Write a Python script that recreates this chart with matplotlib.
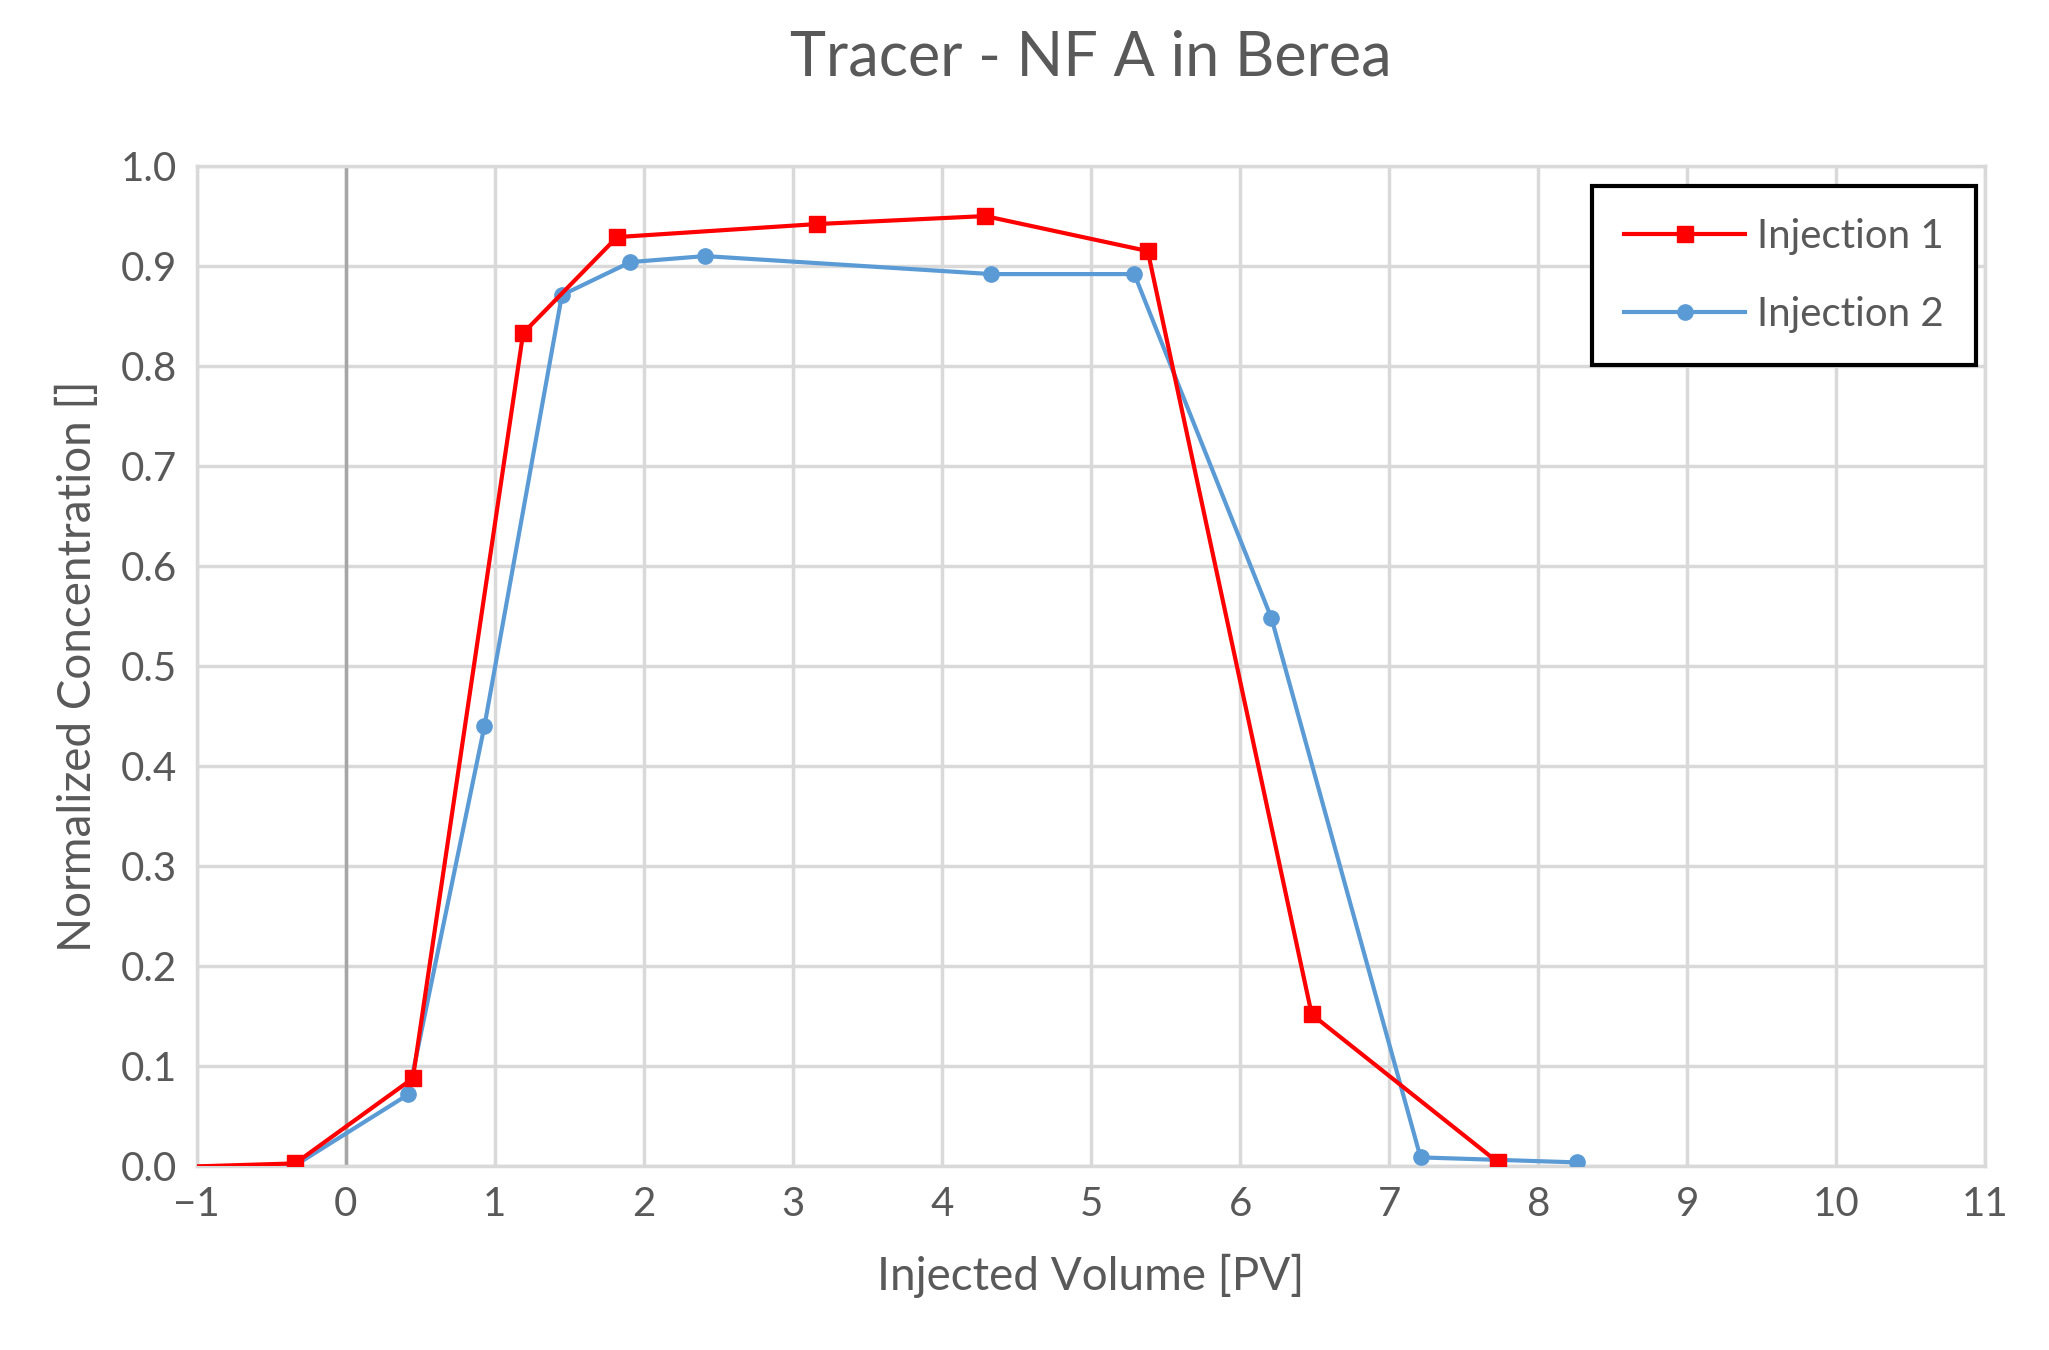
import matplotlib.pyplot as plt
import matplotlib

plt.rcParams['font.family'] = ['Lato', 'DejaVu Sans']

x1 = [-1, -0.34, 0.45, 1.19, 1.82, 3.16, 4.29, 5.38, 6.48, 7.73]
y1 = [0.0, 0.003, 0.088, 0.833, 0.929, 0.942, 0.950, 0.915, 0.152, 0.004]
x2 = [-1, -0.34, 0.42, 0.93, 1.45, 1.91, 2.41, 4.33, 5.29, 6.21, 7.21, 8.26]
y2 = [0.0, 0.001, 0.072, 0.44, 0.871, 0.904, 0.910, 0.892, 0.892, 0.548, 0.009, 0.004]

gray = '#595959'
fig = plt.figure(figsize=(20.49, 13.5), dpi=100)
ax = fig.add_axes([0.096, 0.136, 0.873, 0.741])

ax.plot(x1, y1, color='#ff0000', lw=3, marker='s', ms=12, markevery=list(range(1, len(x1))),
        label='Injection 1', zorder=4)
ax.plot(x2, y2, color='#5b9bd5', lw=3, marker='o', ms=11, markevery=list(range(1, len(x2))),
        label='Injection 2', zorder=3)

ax.set_xlim(-1, 11)
ax.set_ylim(0, 1.0)
ax.set_xticks(range(-1, 12))
ax.set_xticklabels(['\u22121'] + [str(i) for i in range(0, 12)])
ax.set_yticks([i / 10 for i in range(11)])
ax.set_yticklabels([f'{i/10:.1f}' for i in range(11)])
ax.grid(True, color='#d9d9d9', lw=2.5)
ax.set_axisbelow(True)
ax.axvline(0, color='#a6a6a6', lw=2.5, zorder=1)
for s in ax.spines.values():
    s.set_color('#d9d9d9')
    s.set_linewidth(2.5)
ax.tick_params(length=0, labelsize=29, labelcolor=gray, pad=14)

ax.set_title('Tracer - NF A in Berea', fontsize=44, color=gray, pad=65)
ax.set_xlabel('Injected Volume [PV]', fontsize=33, color=gray, labelpad=22)
ax.set_ylabel('Normalized Concentration []', fontsize=33, color=gray, labelpad=16)

leg = ax.legend(loc='upper right', fontsize=29, frameon=True, fancybox=False,
                borderpad=0.8, labelspacing=1.0, handlelength=3.0, handletextpad=0.3,
                bbox_to_anchor=(1.006, 1.0), labelcolor=gray)
leg.get_frame().set_edgecolor('black')
leg.get_frame().set_linewidth(3)
leg.get_frame().set_alpha(1)

fig.savefig('out.png', dpi=100)
